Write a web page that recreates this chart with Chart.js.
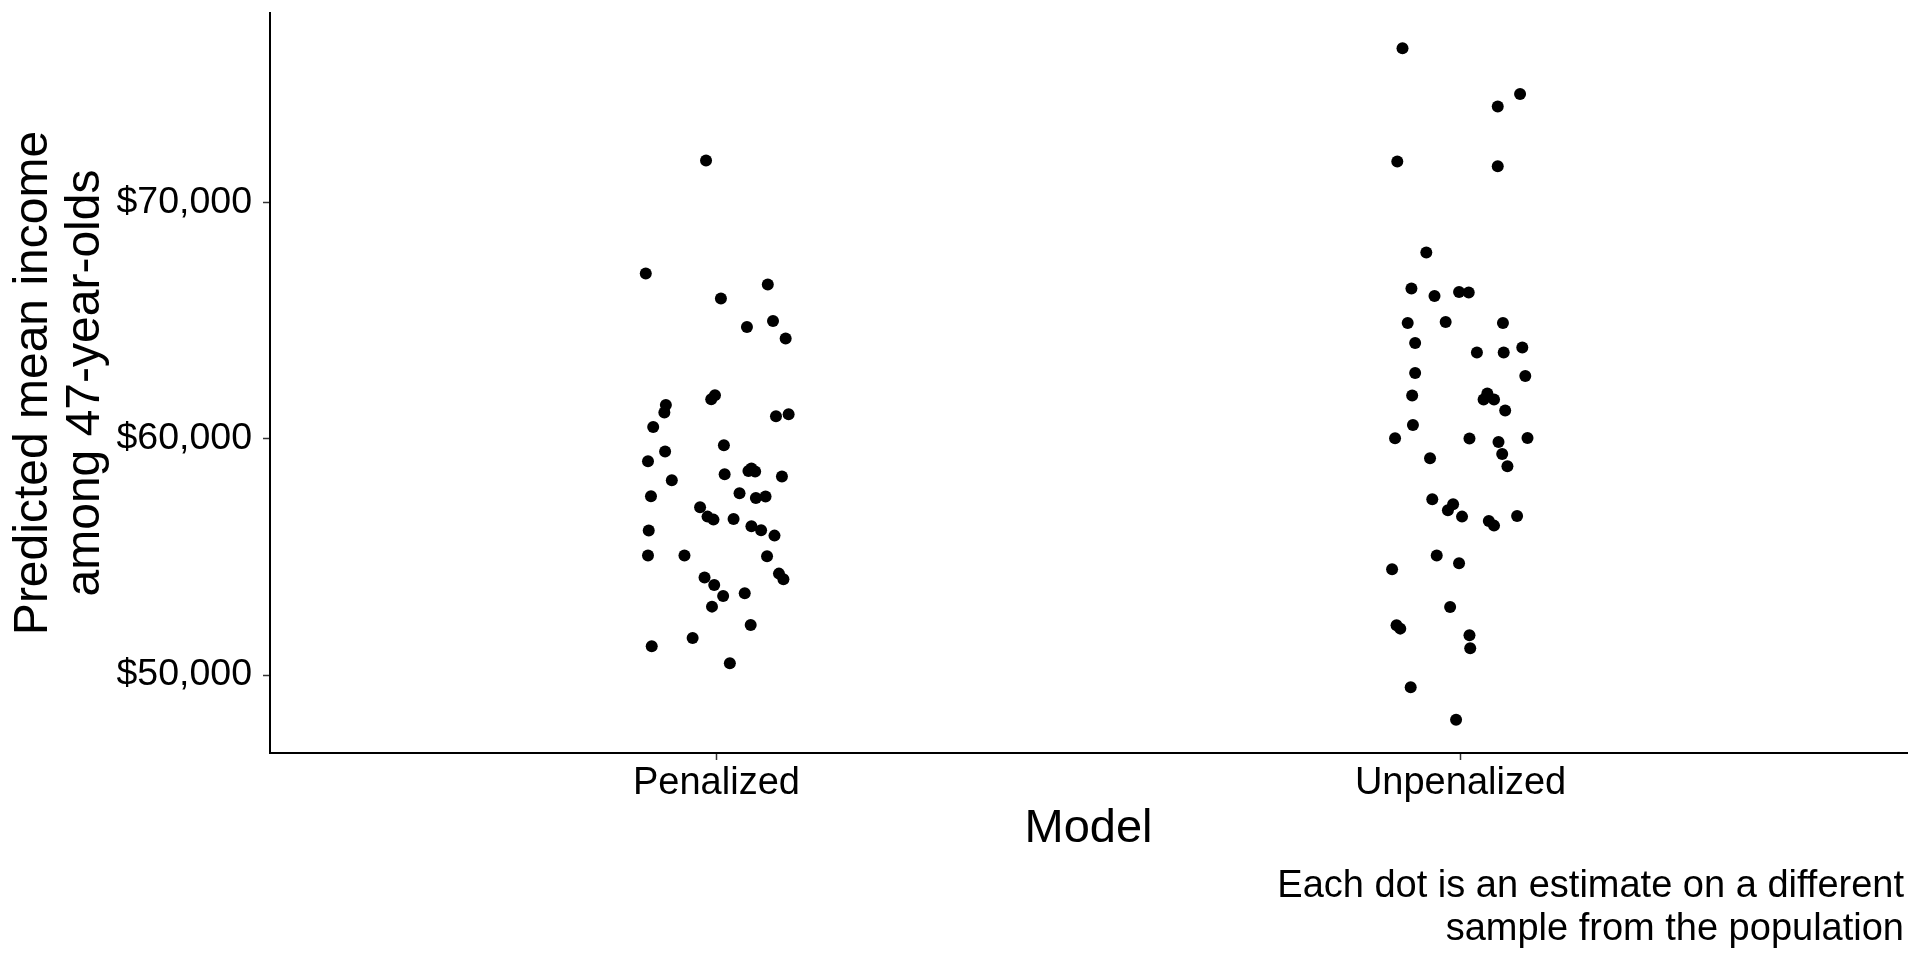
<!DOCTYPE html>
<html>
<head>
<meta charset="utf-8">
<script src="https://cdn.jsdelivr.net/npm/chart.js@4.4.1/dist/chart.umd.min.js"></script>
<style>
  html, body { margin: 0; padding: 0; background: #fff; }
  #wrap { width: 1920px; height: 960px; }
</style>
</head>
<body>
<div id="wrap"><canvas id="myChart" width="1920" height="960"></canvas></div>
<script>
// categories on the x axis (jittered around 1 and 2)
let categories = ["Penalized", "Unpenalized"];

// Penalized model: jittered x position and predicted income
let penalizedX = [0.986, 0.905, 1.069, 1.006, 1.076, 1.041, 1.093, 0.993, 0.998, 0.932,
    0.930, 1.097, 1.080, 0.915, 1.010, 0.931, 0.908, 1.011, 1.047, 1.043,
    1.052, 1.088, 0.940, 0.912, 1.031, 1.053, 1.066, 0.978, 0.988, 0.996,
    1.023, 0.909, 1.047, 1.060, 1.078, 0.908, 0.957, 1.068, 1.084, 1.090,
    0.984, 0.997, 1.009, 1.038, 0.994, 1.046, 0.968, 0.913, 1.018];
let penalizedY = [71769, 66987, 66522, 65929, 64981, 64727, 64236, 61667, 61837, 61426,
    61105, 61033, 60948, 60495, 59721, 59454, 59044, 58493, 58735, 58633,
    58608, 58396, 58239, 57562, 57689, 57490, 57550, 57097, 56703, 56576,
    56602, 56111, 56293, 56123, 55899, 55053, 55053, 55023, 54291, 54050,
    54122, 53809, 53343, 53457, 52894, 52116, 51566, 51214, 50495];

// Unpenalized model
let unpenalizedX = [1.922, 2.080, 2.050, 1.915, 2.050, 1.954, 1.934, 1.965, 1.998, 2.011,
    1.929, 1.980, 2.057, 1.939, 2.022, 2.058, 2.083, 1.939, 2.087, 1.935,
    2.036, 2.031, 2.045, 2.060, 1.936, 1.912, 2.012, 2.090, 2.051, 2.056,
    1.959, 2.063, 1.962, 1.990, 1.983, 2.002, 2.038, 2.045, 2.076, 1.968,
    1.908, 1.998, 1.986, 1.914, 1.919, 2.012, 2.013, 1.933, 1.994];
let unpenalizedY = [76522, 74588, 74054, 71727, 71528, 67876, 66352, 66039, 66208, 66183,
    64896, 64939, 64896, 64050, 63644, 63644, 63855, 62780, 62653, 61824,
    61909, 61655, 61655, 61189, 60580, 60017, 60004, 60030, 59860, 59353,
    59171, 58832, 57435, 57224, 56970, 56703, 56517, 56322, 56729, 55053,
    54473, 54727, 52877, 52103, 51963, 51680, 51130, 49479, 48112];

let yTicks = [50000, 60000, 70000];
let yTitle = ["Predicted mean income", "among 47-year-olds"];
let xTitle = "Model";
let captionLines = ["Each dot is an estimate on a different", "sample from the population"];

const fontFamily = "'Liberation Sans', Arial, Helvetica, sans-serif";

function toPoints(xs, ys){
    let pts = [];
    for (let i = 0; i < xs.length; i++){
        pts.push({x: xs[i], y: ys[i]});
    }
    return pts;
}

// caption under the plot, right aligned
const captionPlugin = {
    id: 'caption',
    afterDraw(chart){
        const ctx = chart.ctx;
        ctx.save();
        ctx.font = "38px " + fontFamily;
        ctx.fillStyle = "#000";
        ctx.textAlign = "right";
        ctx.textBaseline = "alphabetic";
        ctx.fillText(captionLines[0], 1904, 897);
        ctx.fillText(captionLines[1], 1904, 940);
        ctx.restore();
    }
};

const ctx = document.getElementById('myChart').getContext('2d');
const myChart = new Chart(ctx, {
    type: 'scatter',
    data: {
        datasets: [{
            label: categories[0],
            data: toPoints(penalizedX, penalizedY),
            backgroundColor: '#000',
            borderWidth: 0,
            pointRadius: 6,
        }, {
            label: categories[1],
            data: toPoints(unpenalizedX, unpenalizedY),
            backgroundColor: '#000',
            borderWidth: 0,
            pointRadius: 6,
        }]
    },
    options: {
        responsive: false,
        animation: false,
        layout: {
            padding: {left: 0, right: 13, top: 13, bottom: 0}
        },
        plugins: {
            legend: {display: false},
            tooltip: {enabled: false}
        },
        scales: {
            x: {
                type: 'linear',
                min: 0.4,
                max: 2.6,
                afterBuildTicks: (scale) => {
                    scale.ticks = categories.map((c, i) => ({value: i + 1}));
                },
                afterFit: (scale) => {
                    scale.height = 207;
                    scale.paddingLeft = 0;
                    scale.paddingRight = 0;
                },
                ticks: {
                    callback: (value) => categories[value - 1],
                    color: '#000',
                    padding: 1,
                    maxRotation: 0,
                    font: {family: fontFamily, size: 38}
                },
                grid: {
                    drawOnChartArea: false,
                    drawTicks: true,
                    tickLength: 7,
                    tickColor: '#333',
                    tickWidth: 1.5
                },
                border: {display: true, color: '#000', width: 2},
                title: {
                    display: true,
                    text: xTitle,
                    color: '#000',
                    font: {family: fontFamily, size: 47},
                    padding: {top: 0, bottom: 103}
                }
            },
            y: {
                min: 46700,
                max: 78015,
                afterBuildTicks: (scale) => {
                    scale.ticks = yTicks.map(v => ({value: v}));
                },
                afterFit: (scale) => {
                    scale.width = 270;
                    scale.paddingTop = 0;
                    scale.paddingBottom = 0;
                },
                ticks: {
                    callback: (value) => '$' + value.toLocaleString('en-US'),
                    color: '#000',
                    padding: 11,
                    font: {family: fontFamily, size: 37.5}
                },
                grid: {
                    drawOnChartArea: false,
                    drawTicks: true,
                    tickLength: 7,
                    tickColor: '#333',
                    tickWidth: 1.5
                },
                border: {display: true, color: '#000', width: 2},
                title: {
                    display: true,
                    text: yTitle,
                    color: '#000',
                    font: {family: fontFamily, size: 48, lineHeight: 1.1},
                    padding: {top: 7, bottom: 0}
                }
            }
        }
    },
    plugins: [captionPlugin]
});
</script>
</body>
</html>
